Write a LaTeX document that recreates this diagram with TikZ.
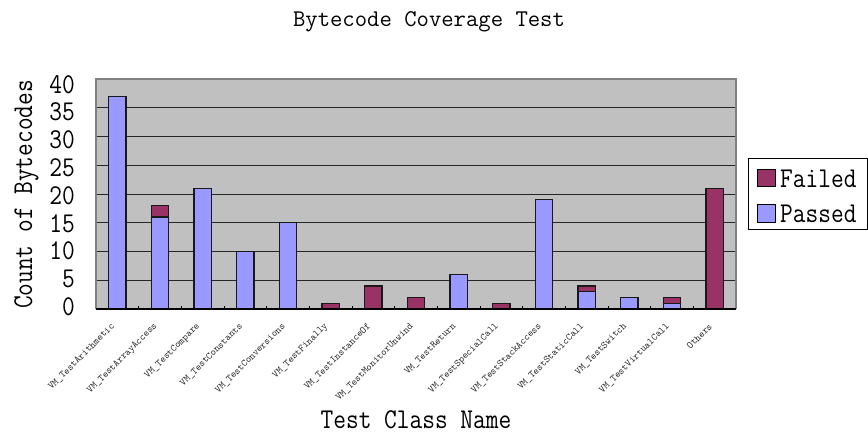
\documentclass[tikz,border=0pt]{standalone}
\usepackage{fontspec}
\usepackage{graphicx}

\definecolor{passedcol}{HTML}{9999FF}
\definecolor{failedcol}{HTML}{993366}
\definecolor{plotbg}{HTML}{C0C0C0}
\definecolor{framecol}{HTML}{808080}

% narrow monospaced lettering
\newcommand\narrowtt[1]{\scalebox{0.86}[1]{#1}}

\tikzset{
  gridline/.style={draw=black!85, line width=0.9pt},
  plotframe/.style={draw=framecol, line width=1.2pt},
  axisline/.style={draw=black, line width=1.3pt},
  barbox/.style={draw=black!90, line width=1.4pt},
  bigtext/.style={font=\ttfamily\fontsize{28.7}{30}\selectfont, inner sep=0pt},
  titletext/.style={font=\ttfamily\fontsize{24}{26}\selectfont, inner sep=0pt},
  xlab/.style={font=\ttfamily\fontsize{10}{11}\selectfont, inner sep=0pt, text=black!85},
  legbox/.style={draw=black, line width=0.9pt},
}

\begin{document}
\begin{tikzpicture}[x=1pt,y=-1pt]
  \useasboundingbox[fill=white] (0,0) rectangle (868,437);

  % plot area and horizontal gridlines
  \fill[plotbg] (96,79) rectangle (736,309);
  \foreach \v in {5,10,...,35}
    \draw[gridline] (96,{309-\v*5.75}) -- (736,{309-\v*5.75});
  \draw[plotframe] (96,309) -- (96,79) -- (736,79) -- (736,309);

  % stacked bars: name / passed / failed
  \foreach [count=\i] \n/\p/\f in {
      VM\_TestArithmetic/37/0,
      VM\_TestArrayAccess/16/2,
      VM\_TestCompare/21/0,
      VM\_TestConstants/10/0,
      VM\_TestConversions/15/0,
      VM\_TestFinally/0/1,
      VM\_TestInstanceOf/0/4,
      VM\_TestMonitorUnwind/0/2,
      VM\_TestReturn/6/0,
      VM\_TestSpecialCall/0/1,
      VM\_TestStackAccess/19/0,
      VM\_TestStaticCall/3/1,
      VM\_TestSwitch/2/0,
      VM\_TestVirtualCall/1/1,
      Others/0/21} {
    \pgfmathsetmacro\c{96+(\i-0.5)*640/15}
    \ifnum\p>0
      \filldraw[barbox, fill=passedcol] ({\c-8.75},309) rectangle ({\c+8.75},{309-\p*5.75});
    \fi
    \ifnum\f>0
      \filldraw[barbox, fill=failedcol] ({\c-8.75},{309-\p*5.75}) rectangle ({\c+8.75},{309-(\p+\f)*5.75});
    \fi
    \node[xlab, rotate=45, anchor=east] (xlab\i) at ({\c-4},325) {\n};
  }

  % category axis with inner tick marks
  \draw[axisline] (96,309) -- (736,309);
  \foreach \k in {1,...,14}
    \draw[black, line width=1pt] ({96+\k*640/15},309) -- ++(0,-3.5);

  % value axis labels
  \foreach \v in {0,5,...,40}
    \node[bigtext, anchor=base east] (ytick\v) at (75,{315.5-\v*5.5625}) {\narrowtt{\v}};

  % titles
  \node[titletext, anchor=base] (title) at (429,26.7) {Bytecode Coverage Test};
  \node[bigtext, anchor=base] (xtitle) at (416,428) {\narrowtt{Test Class Name}};
  \node[bigtext, anchor=base, rotate=90] (ytitle) at (32,194.5) {\narrowtt{Count of Bytecodes}};

  % legend
  \draw[legbox, fill=white] (748,158) rectangle (867,229);
  \filldraw[legbox, fill=failedcol] (757,169) rectangle (775,186);
  \filldraw[legbox, fill=passedcol] (757,204) rectangle (775,222);
  \node[bigtext, anchor=base west] (legfailed) at (780,187) {\narrowtt{Failed}};
  \node[bigtext, anchor=base west] (legpassed) at (780,222.5) {\narrowtt{Passed}};
\end{tikzpicture}
\end{document}
